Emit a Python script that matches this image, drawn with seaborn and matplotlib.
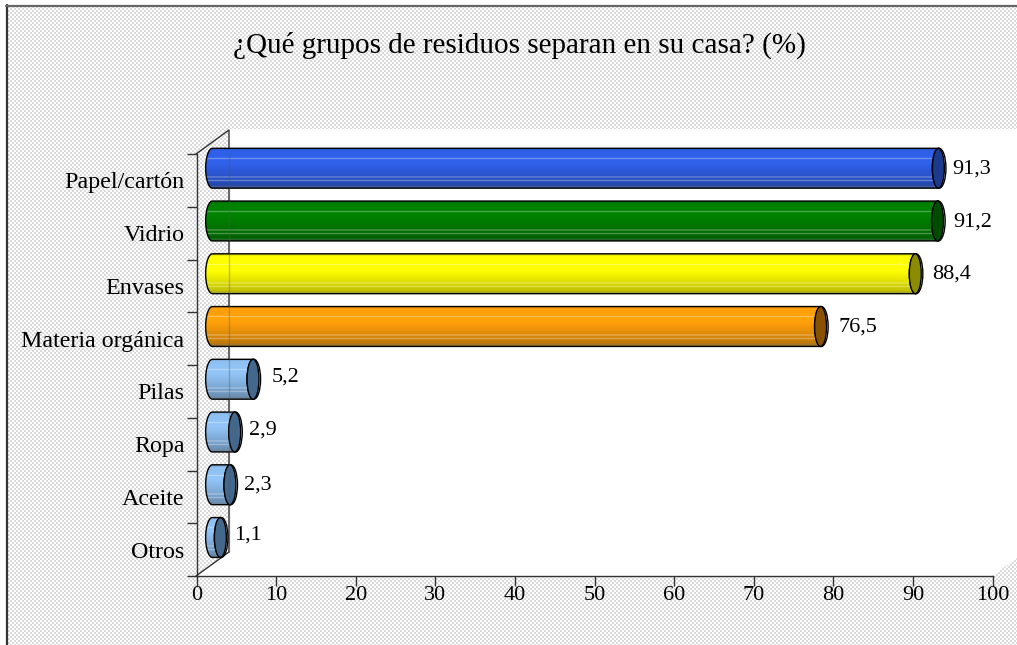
import numpy as np
import pandas as pd
import matplotlib
matplotlib.use("Agg")
import matplotlib.pyplot as plt
import seaborn as sns
from matplotlib.path import Path
from matplotlib.patches import PathPatch, Polygon, Ellipse

categorias = ["Papel/cartón", "Vidrio", "Envases", "Materia orgánica",
              "Pilas", "Ropa", "Aceite", "Otros"]
valores = [91.3, 91.2, 88.4, 76.5, 5.2, 2.9, 2.3, 1.1]
titulo = "¿Qué grupos de residuos separan en su casa? (%)"
xticks = [0, 10, 20, 30, 40, 50, 60, 70, 80, 90, 100]

# body colour and colour of the end cap of each cylinder
colores = ["#2f5fe6", "#008000", "#ffff00", "#ff9f0a",
           "#8fc0f2", "#8fc0f2", "#8fc0f2", "#8fc0f2"]
tapas = ["#1c3a8c", "#004d00", "#8c8c00", "#8a5200",
         "#44688c", "#44688c", "#44688c", "#44688c"]
# manual position of the labels, in pixels from the end of the bar
label_dx = [13, 15, 16, 17, 18, 13, 13, 13]
label_dy = [1, 1, 0, 1, -2, -2, 0, -2]

W, H = 1017, 645
sns.set_style("white")
plt.rcParams["font.family"] = ["Liberation Serif", "DejaVu Serif"]

fig = plt.figure(figsize=(W / 100, H / 100), dpi=100, facecolor="white")

# dithered background
yy, xx = np.mgrid[0:H, 0:W]
fondo = np.where(((xx // 2 + yy // 2) % 2) == 0, 255, 218).astype(np.uint8)
fondo[:6, :] = 255
fondo[:, :7] = 255
fig.figimage(np.dstack([fondo] * 3), zorder=-1, origin="upper")

# layer in pixel coordinates for the walls of the 3D box
bg = fig.add_axes([0, 0, 1, 1], zorder=0)
bg.set_xlim(0, W)
bg.set_ylim(H, 0)
bg.axis("off")
bg.add_patch(Polygon([(229, 129), (W, 129), (W, 558), (992, 576), (196, 576), (229, 552)],
                     closed=True, fc="white", ec="none"))
bg.plot([196, 229, 229], [154, 130, 552], color="#333333", lw=1)
bg.plot([196, 229], [576, 552], color="#333333", lw=1)
bg.plot([6.5, 6.5], [5, H], color="#333333", lw=1.6)
bg.plot([6, W], [5.5, 5.5], color="#666666", lw=1.6)

# main axes
ax = fig.add_axes([196.5 / W, (H - 576) / H, 796 / W, (576 - 154) / H], zorder=1)
ax.patch.set_visible(False)

df = pd.DataFrame({"grupo": categorias, "pct": valores})
sns.barplot(data=df, y="grupo", x="pct", hue="grupo", palette=colores,
            legend=False, width=0.756, ax=ax)

ax.set_xlim(0, 100)
ax.set_ylim(7.5, -0.5)
prof_x = 2.0    # bars sit inside the box
prof_y = -0.23
mx = 0.85       # half width of the end ellipse


def gradiente(color):
    base = np.array(matplotlib.colors.to_rgb(color))
    f = np.linspace(0, 1, 80)
    k = np.interp(f, [0, .05, .35, .6, .92, 1], [.8, 1.0, 1.03, .92, .76, .7])
    img = np.clip(base[None, :] * k[:, None], 0, 1)
    for pos in [.25, .72, .8]:
        i = int(pos * 80)
        img[i:i + 2] = img[i:i + 2] * .6 + .4
    img[-5:] = img[-5:] * .7 + .15
    return img[:, None, :]


for p, color, tapa, v, dx, dy in zip(ax.patches, colores, tapas, valores, label_dx, label_dy):
    p.set_x(p.get_x() + prof_x)
    p.set_y(p.get_y() + prof_y)
    p.set_linewidth(0)
    p.set_clip_on(False)
    y0, h = p.get_y(), p.get_height()
    yc = y0 + h / 2
    x0, x1 = p.get_x(), p.get_x() + p.get_width()

    # outline of the cylinder body with rounded left side
    t = np.linspace(np.pi / 2, 3 * np.pi / 2, 30)
    izq = np.c_[x0 + mx * np.cos(t), yc - h / 2 * np.sin(t)]
    verts = np.vstack([[[x1, y0]], izq, [[x1, y0 + h]], [[x1, y0]]])
    silueta = PathPatch(Path(verts, closed=True), fc="none", ec="black", lw=1, zorder=3, clip_on=False)
    ax.add_patch(silueta)
    im = ax.imshow(gradiente(color), extent=(x0 - mx, x1, y0 + h, y0), aspect="auto",
                   interpolation="bilinear", zorder=2)
    im.set_clip_box(fig.bbox)
    im.set_clip_path(silueta)

    # end of the cylinder
    ax.add_patch(Ellipse((x1, yc), 2 * mx, h, fc="white", ec="black", lw=1, zorder=4, clip_on=False))
    ax.add_patch(Ellipse((x1 - 0.1, yc), 2 * mx - 0.2, h, fc=tapa, ec="black", lw=1, zorder=5, clip_on=False))

    ax.annotate(f"{v:.1f}".replace(".", ","), (x1, yc), xytext=(dx * .72, -dy * .72),
                textcoords="offset points", va="center", ha="left", fontsize=16, color="black")

ax.set_xlim(0, 100)
ax.set_ylim(7.5, -0.5)

# back wall seen through the bars
ax.axvline(4.08, ymin=24 / 422, color="#555555", lw=1, alpha=.35, zorder=6)

for s in ["top", "right"]:
    ax.spines[s].set_visible(False)
for s in ["left", "bottom"]:
    ax.spines[s].set_color("#333333")
    ax.spines[s].set_linewidth(1)

ax.set_xlabel("")
ax.set_ylabel("")
ax.set_xticks(xticks)
ax.set_yticks(np.arange(-0.5, 8, 1))
ax.set_yticklabels([])
ax.set_yticks(range(len(categorias)), categorias, minor=True)
ax.tick_params(axis="x", length=7, width=1, color="#333333", labelsize=16, labelcolor="black", pad=0, bottom=True)
ax.tick_params(axis="y", which="major", length=7, width=1, color="#333333", left=True)
ax.tick_params(axis="y", which="minor", length=0, labelsize=17.3, labelcolor="black", pad=8.6, left=False)

fig.text(519 / W, 1 - 45 / H, titulo, ha="center", va="center", fontsize=21, color="black")

fig.savefig("out.png", dpi=100)
